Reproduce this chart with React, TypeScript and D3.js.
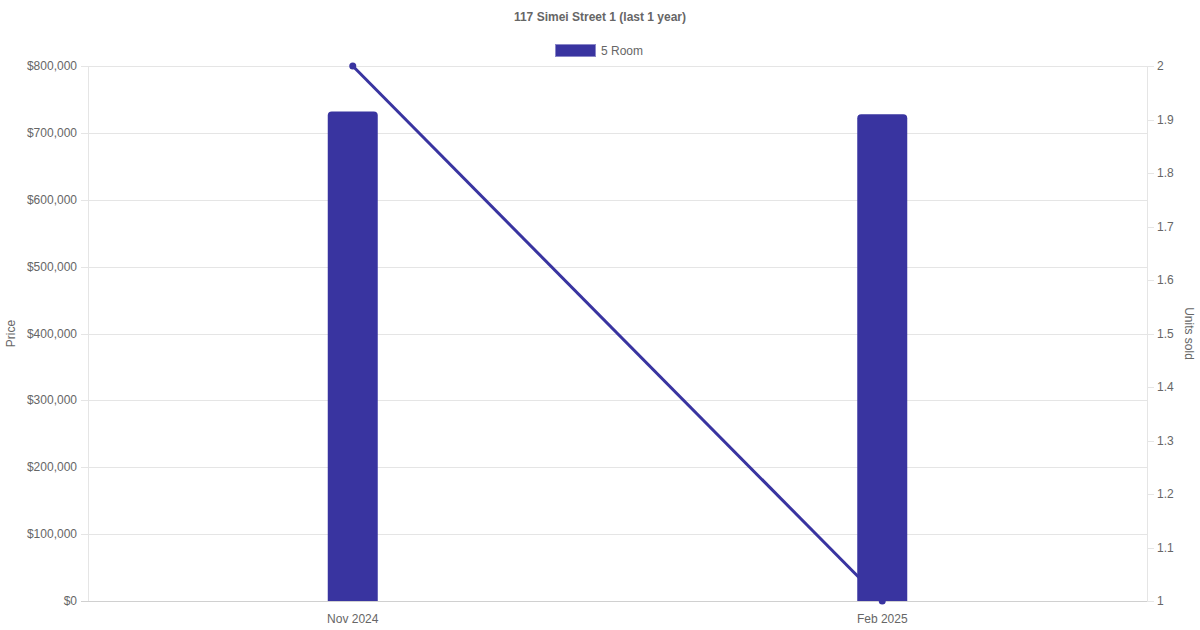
import React from "react";
import * as d3 from "d3";

const title = "117 Simei Street 1 (last 1 year)";
const seriesName = "5 Room";
const categories = ["Nov 2024", "Feb 2025"];
const priceValues = [732000, 728000];
const unitsSold = [2, 1];
const priceTicks = [0, 100000, 200000, 300000, 400000, 500000, 600000, 700000, 800000];
const unitTicks = [1, 1.1, 1.2, 1.3, 1.4, 1.5, 1.6, 1.7, 1.8, 1.9, 2];

const W = 1200;
const H = 630;
const M = { left: 88, right: 1147, top: 66, bottom: 601 };
const COLOR = "#3934a0";
const FONT = "'Liberation Sans', Arial, Helvetica, sans-serif";
const TEXT = "#666";
const GRID = "#e5e5e5";

export default function App() {
  const x = d3.scaleBand<string>().domain(categories).range([M.left, M.right]);
  const yL = d3.scaleLinear().domain([0, 800000]).range([M.bottom, M.top]);
  const yR = d3.scaleLinear().domain([1, 2]).range([M.bottom, M.top]);
  const barW = 50;
  const r = 4;
  const fmt = (v: number) => "$" + d3.format(",")(v);
  const line = d3
    .line<number>()
    .x((_, i) => (x(categories[i]) as number) + x.bandwidth() / 2)
    .y((d) => yR(d));

  const barPath = (cx: number, top: number, bottom: number) => {
    const l = cx - barW / 2;
    const rr = l + barW;
    return `M${l},${bottom}V${top + r}Q${l},${top} ${l + r},${top}H${rr - r}Q${rr},${top} ${rr},${top + r}V${bottom}Z`;
  };

  return (
    <svg width={W} height={H} style={{ position: "absolute", left: 0, top: 0, fontFamily: FONT }}>
      <rect width={W} height={H} fill="#fff" />
      <text x={600} y={21} textAnchor="middle" fontSize={12} fontWeight="bold" fill={TEXT}>
        {title}
      </text>
      <rect x={555.5} y={44.5} width={40} height={12} fill={COLOR} stroke="#8a87c8" strokeWidth={1} />
      <text x={601} y={54.5} fontSize={12} fill={TEXT}>
        {seriesName}
      </text>

      {priceTicks.map((t) => (
        <g key={"l" + t}>
          <line x1={M.left - 7} x2={M.right} y1={Math.round(yL(t)) + 0.5} y2={Math.round(yL(t)) + 0.5} stroke={t === 0 ? "#d0d0d0" : GRID} />
          <text x={M.left - 11} y={yL(t) + 4} textAnchor="end" fontSize={12} fill={TEXT}>
            {fmt(t)}
          </text>
        </g>
      ))}
      {unitTicks.map((t) => (
        <g key={"r" + t}>
          <line x1={M.right} x2={M.right + 7} y1={Math.round(yR(t)) + 0.5} y2={Math.round(yR(t)) + 0.5} stroke={GRID} />
          <text x={M.right + 10} y={yR(t) + 4} textAnchor="start" fontSize={12} fill={TEXT}>
            {d3.format("~g")(t)}
          </text>
        </g>
      ))}
      <line x1={M.left + 0.5} x2={M.left + 0.5} y1={M.top} y2={M.bottom} stroke={GRID} />
      <line x1={M.right + 0.5} x2={M.right + 0.5} y1={M.top} y2={M.bottom} stroke={GRID} />
      {categories.map((c) => (
        <text key={c} x={(x(c) as number) + x.bandwidth() / 2} y={623} textAnchor="middle" fontSize={12} fill={TEXT}>
          {c}
        </text>
      ))}

      <text transform={`translate(15,${(M.top + M.bottom) / 2}) rotate(-90)`} textAnchor="middle" fontSize={12} fill={TEXT}>
        Price
      </text>
      <text transform={`translate(1185,${(M.top + M.bottom) / 2}) rotate(90)`} textAnchor="middle" fontSize={12} fill={TEXT}>
        Units sold
      </text>

      <path d={line(unitsSold) || ""} fill="none" stroke={COLOR} strokeWidth={3} />
      {unitsSold.map((v, i) => (
        <circle key={i} cx={(x(categories[i]) as number) + x.bandwidth() / 2} cy={yR(v)} r={3.5} fill={COLOR} />
      ))}

      {priceValues.map((v, i) => (
        <path key={i} d={barPath((x(categories[i]) as number) + x.bandwidth() / 2, yL(v), yL(0))} fill={COLOR} />
      ))}
    </svg>
  );
}
